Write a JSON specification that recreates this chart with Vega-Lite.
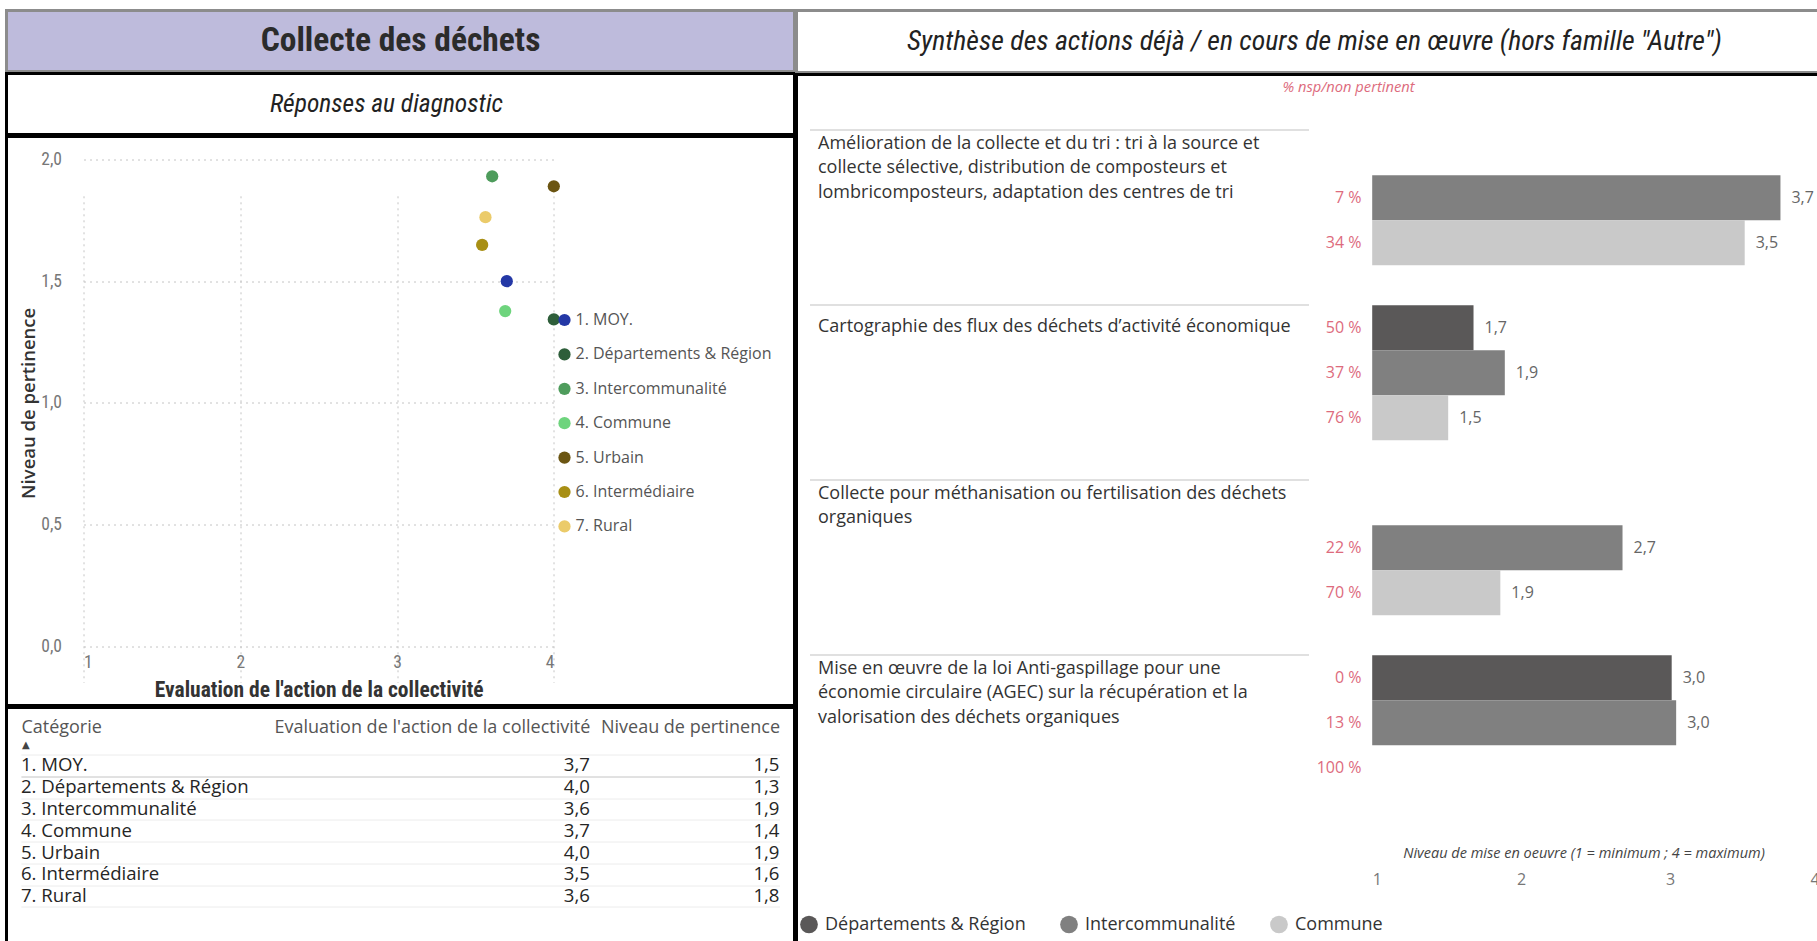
{
  "$schema": "https://vega.github.io/schema/vega-lite/v6.json",
  "padding": {"left": 4.5, "top": 8.5, "right": 0, "bottom": 0},
  "background": "white",
  "config": {
    "locale": {"number": {"decimal": ",", "thousands": "\u00a0", "grouping": [3], "currency": ["", "\u00a0€"], "percent": "\u00a0%"}},
    "view": {"stroke": null},
    "font": "Open Sans",
    "axis": {"labelFont": "Open Sans", "titleFont": "Open Sans"},
    "legend": {"labelFont": "Open Sans"}
  },
  "datasets": {
    "categories": [
      {"categorie": "1. MOY.", "evaluation": 3.70, "pertinence": 1.50},
      {"categorie": "2. Départements & Région", "evaluation": 4.00, "pertinence": 1.343},
      {"categorie": "3. Intercommunalité", "evaluation": 3.607, "pertinence": 1.931},
      {"categorie": "4. Commune", "evaluation": 3.69, "pertinence": 1.377},
      {"categorie": "5. Urbain", "evaluation": 4.00, "pertinence": 1.89},
      {"categorie": "6. Intermédiaire", "evaluation": 3.543, "pertinence": 1.649},
      {"categorie": "7. Rural", "evaluation": 3.564, "pertinence": 1.763}
    ],
    "actions": [
      {"action": "Amélioration de la collecte et du tri : tri à la source et\ncollecte sélective, distribution de composteurs et\nlombricomposteurs, adaptation des centres de tri", "serie": "Intercommunalité", "valeur": 3.74, "nsp": 0.07},
      {"action": "Amélioration de la collecte et du tri : tri à la source et\ncollecte sélective, distribution de composteurs et\nlombricomposteurs, adaptation des centres de tri", "serie": "Commune", "valeur": 3.50, "nsp": 0.34},
      {"action": "Cartographie des flux des déchets d’activité économique", "serie": "Départements & Région", "valeur": 1.68, "nsp": 0.50},
      {"action": "Cartographie des flux des déchets d’activité économique", "serie": "Intercommunalité", "valeur": 1.89, "nsp": 0.37},
      {"action": "Cartographie des flux des déchets d’activité économique", "serie": "Commune", "valeur": 1.51, "nsp": 0.76},
      {"action": "Collecte pour méthanisation ou fertilisation des déchets\norganiques", "serie": "Intercommunalité", "valeur": 2.68, "nsp": 0.22},
      {"action": "Collecte pour méthanisation ou fertilisation des déchets\norganiques", "serie": "Commune", "valeur": 1.86, "nsp": 0.70},
      {"action": "Mise en œuvre de la loi Anti-gaspillage pour une\néconomie circulaire (AGEC) sur la récupération et la\nvalorisation des déchets organiques", "serie": "Départements & Région", "valeur": 3.01, "nsp": 0.00},
      {"action": "Mise en œuvre de la loi Anti-gaspillage pour une\néconomie circulaire (AGEC) sur la récupération et la\nvalorisation des déchets organiques", "serie": "Intercommunalité", "valeur": 3.04, "nsp": 0.13},
      {"action": "Mise en œuvre de la loi Anti-gaspillage pour une\néconomie circulaire (AGEC) sur la récupération et la\nvalorisation des déchets organiques", "serie": "Commune", "valeur": null, "nsp": 1.00}
    ]
  },
  "resolve": {"scale": {"color": "independent"}, "legend": {"color": "independent"}},
  "spacing": -3,
  "hconcat": [
    {
      "spacing": -3,
      "resolve": {"scale": {"color": "independent"}, "legend": {"color": "independent"}},
      "vconcat": [
        {
          "width": 788, "height": 61,
          "view": {"fill": "#BEBBDC", "stroke": "#8c8c8c", "strokeWidth": 3},
          "data": {"values": [{"titre": "Collecte des déchets"}]},
          "mark": {"type": "text", "font": "Roboto Condensed, Liberation Sans Narrow, DejaVu Sans Condensed, Roboto", "fontSize": 33.5, "fontWeight": "bold", "color": "#2b2b2b", "baseline": "middle", "align": "center"},
          "encoding": {"text": {"field": "titre"}}
        },
        {
          "width": 788, "height": 61,
          "view": {"fill": "white", "stroke": "black", "strokeWidth": 3},
          "data": {"values": [{"titre": "Réponses au diagnostic"}]},
          "mark": {"type": "text", "font": "Roboto Condensed, Liberation Sans Narrow, DejaVu Sans Condensed, Roboto", "fontSize": 25.5, "fontStyle": "italic", "color": "#222", "baseline": "middle", "align": "center", "dx": -14},
          "encoding": {"text": {"field": "titre"}}
        },
        {
          "width": 788, "height": 569,
          "view": {"fill": "white", "stroke": "black", "strokeWidth": 3},
          "data": {"name": "categories"},
          "mark": {"type": "point", "filled": true, "size": 150, "opacity": 1},
          "encoding": {
            "x": {
              "field": "evaluation", "type": "quantitative",
              "scale": {"domain": [1, 4], "range": [77, 547.3], "nice": false, "zero": false},
              "axis": {"title": "Evaluation de l'action de la collectivité", "values": [1, 2, 3, 4], "format": "d", "offset": -59.3, "domain": false, "ticks": false, "grid": true, "gridDash": [2, 4], "gridColor": "#c4c4c4", "labelPadding": 7, "labelFont": "Roboto Condensed, Liberation Sans Narrow, DejaVu Sans Condensed, Roboto", "labelFontSize": 17.5, "labelColor": "#777", "titleFont": "Roboto Condensed, Liberation Sans Narrow, DejaVu Sans Condensed, Roboto", "titleFontSize": 21.5, "titleFontWeight": "bold", "titleColor": "#333", "titleY": 44, "titleBaseline": "middle"}
            },
            "y": {
              "field": "pertinence", "type": "quantitative",
              "scale": {"domain": [0, 2], "range": [509.7, 23], "nice": false, "zero": false},
              "axis": {"title": "Niveau de pertinence", "values": [0, 0.5, 1, 1.5, 2], "format": ".1f", "offset": -77, "domain": false, "ticks": false, "grid": true, "gridDash": [2, 4], "gridColor": "#c4c4c4", "labelPadding": 22, "labelFont": "Roboto Condensed, Liberation Sans Narrow, DejaVu Sans Condensed, Roboto", "labelFontSize": 17.5, "labelColor": "#777", "titleX": -55, "titleY": 266.35, "titleBaseline": "middle", "titleAlign": "center", "titleFont": "Open Sans", "titleFontWeight": 600, "titleFontSize": 18.5, "titleColor": "#333"}
            },
            "color": {
              "field": "categorie", "type": "nominal",
              "scale": {"domain": ["1. MOY.", "2. Départements & Région", "3. Intercommunalité", "4. Commune", "5. Urbain", "6. Intermédiaire", "7. Rural"], "range": ["#2438A6", "#2E5E3A", "#4E9C5C", "#6ED47D", "#6B5512", "#A88F14", "#EBCB6A"]},
              "legend": {"title": null, "orient": "none", "legendX": 550, "legendY": 175.5, "symbolType": "circle", "symbolSize": 150, "symbolOpacity": 1, "symbolStrokeWidth": 0, "labelFontSize": 16, "labelColor": "#555", "labelOffset": 3, "rowPadding": 18.4, "padding": 0, "labelLimit": 0}
            }
          }
        },
        {
          "width": 788, "height": 242,
          "view": {"fill": "white", "stroke": "black", "strokeWidth": 3},
          "data": {"name": "categories"},
          "layer": [
            {
              "mark": {"type": "text", "align": "left", "baseline": "middle", "fontSize": 18.6, "color": "#252525"},
              "encoding": {
                "x": {
                  "datum": "categorie", "type": "nominal",
                  "scale": {"type": "point", "domain": ["categorie", "vide1", "vide2", "evaluation", "pertinence"], "range": [14.4, 773], "padding": 0},
                  "axis": {"orient": "top", "offset": -38, "domain": false, "ticks": false, "grid": false, "title": null, "labelPadding": 18, "labelBaseline": "middle", "labelFontSize": 18, "labelColor": "#555", "labelAngle": 0, "labelLimit": 0,
                    "labelAlign": {"condition": {"test": "datum.value === 'categorie'", "value": "left"}, "value": "right"},
                    "labelExpr": "datum.value === 'categorie' ? 'Catégorie' : datum.value === 'evaluation' ? \"Evaluation de l'action de la collectivité\" : datum.value === 'pertinence' ? 'Niveau de pertinence' : ''"}
                },
                "y": {
                  "field": "categorie", "type": "nominal",
                  "scale": {"domain": ["1. MOY.", "2. Départements & Région", "3. Intercommunalité", "4. Commune", "5. Urbain", "6. Intermédiaire", "7. Rural"], "range": [47.1, 199.4], "paddingInner": 0, "paddingOuter": 0},
                  "axis": {"labels": false, "ticks": false, "domain": false, "title": null, "grid": true, "tickBand": "extent", "gridWidth": 1, "gridColor": {"condition": {"test": "datum.value === '1. MOY.'", "value": "#c4c4c4"}, "value": "#ececec"}}
                },
                "text": {"field": "categorie"}
              }
            },
            {
              "transform": [{"fold": ["evaluation", "pertinence"], "as": ["colonne", "valeur"]}],
              "mark": {"type": "text", "align": "right", "baseline": "middle", "fontSize": 18.6, "color": "#252525"},
              "encoding": {
                "x": {"field": "colonne", "type": "nominal"},
                "y": {"field": "categorie", "type": "nominal"},
                "text": {"field": "valeur", "type": "quantitative", "format": ".1f"}
              }
            },
            {
              "data": {"values": [{"tri": "▲"}]},
              "mark": {"type": "text", "font": "DejaVu Sans", "align": "center", "baseline": "middle", "fontSize": 10, "color": "#444", "dx": 5, "dy": -20},
              "encoding": {
                "x": {"datum": "categorie", "type": "nominal"},
                "y": {"datum": "1. MOY.", "type": "nominal"},
                "text": {"field": "tri"}
              }
            }
          ]
        }
      ]
    },
    {
      "spacing": -3,
      "resolve": {"scale": {"color": "independent"}, "legend": {"color": "independent"}},
      "vconcat": [
        {
          "width": 1026, "height": 62,
          "view": {"fill": "white", "stroke": "#8c8c8c", "strokeWidth": 3},
          "data": {"values": [{"titre": "Synthèse des actions déjà / en cours de mise en œuvre (hors famille \"Autre\")"}]},
          "mark": {"type": "text", "font": "Roboto Condensed, Liberation Sans Narrow, DejaVu Sans Condensed, Roboto", "fontSize": 27.8, "fontStyle": "italic", "color": "#222", "baseline": "middle", "align": "center", "dx": 5},
          "encoding": {"text": {"field": "titre"}}
        },
        {
          "width": 1026, "height": 871,
          "view": {"fill": "white", "stroke": "black", "strokeWidth": 3},
          "data": {"name": "actions"},
          "encoding": {
            "y": {
              "field": "action", "type": "nominal",
              "scale": {"domain": [
                "Amélioration de la collecte et du tri : tri à la source et\ncollecte sélective, distribution de composteurs et\nlombricomposteurs, adaptation des centres de tri",
                "Cartographie des flux des déchets d’activité économique",
                "Collecte pour méthanisation ou fertilisation des déchets\norganiques",
                "Mise en œuvre de la loi Anti-gaspillage pour une\néconomie circulaire (AGEC) sur la récupération et la\nvalorisation des déchets organiques"
              ], "range": [55.7, 715.7], "paddingInner": 0.2286, "paddingOuter": 0},
              "axis": {"title": null, "orient": "left", "offset": -512, "domain": false, "ticks": true, "tickSize": 499, "tickWidth": 1.5, "tickColor": "#d6d6d6", "bandPosition": 0, "grid": false, "labelAlign": "left", "labelBaseline": "top", "labelPadding": -8, "labelOffset": {"condition": {"test": "indexof(datum.value, 'Cartographie') === 0", "value": -54.5}, "value": -62.5}, "labelFontSize": 18, "labelColor": "#333", "labelLimit": 0, "labelLineHeight": 24.2, "labelExpr": "split(datum.label, '\\n')"}
            }
          },
          "layer": [
            {
              "mark": {"type": "bar"},
              "encoding": {
                "x": {
                  "field": "valeur", "type": "quantitative",
                  "scale": {"domain": [1, 4], "range": [575.7, 1022.7], "nice": false, "zero": false},
                  "axis": {"title": "Niveau de mise en oeuvre (1 = minimum ; 4 = maximum)", "values": [1, 2, 3, 4], "format": "d", "offset": -81, "domain": false, "ticks": false, "grid": false, "labelPadding": 7, "labelFontSize": 16, "labelColor": "#777", "titleFontStyle": "italic", "titleFontWeight": "normal", "titleFontSize": 14.5, "titleColor": "#444", "titleX": 787, "titleY": -11.3, "titleBaseline": "middle", "titleAlign": "center"}
                },
                "x2": {"datum": 1},
                "yOffset": {"field": "serie", "type": "nominal", "scale": {"domain": ["Départements & Région", "Intercommunalité", "Commune"], "paddingInner": 0, "paddingOuter": 0}},
                "color": {
                  "field": "serie", "type": "nominal",
                  "scale": {"domain": ["Départements & Région", "Intercommunalité", "Commune"], "range": ["#5A5858", "#808080", "#C9C9C9"]},
                  "legend": {"title": null, "orient": "none", "legendX": 3.5, "legendY": 841, "direction": "horizontal", "symbolType": "circle", "symbolSize": 314, "symbolStrokeWidth": 0, "symbolOpacity": 1, "labelFontSize": 18, "labelColor": "#333", "labelOffset": 7, "columnPadding": 34, "padding": 0, "labelLimit": 0}
                }
              }
            },
            {
              "mark": {"type": "text", "align": "right", "baseline": "middle", "dx": -10.7, "fontSize": 16, "color": "#DD6B7D"},
              "encoding": {
                "x": {"datum": 1, "type": "quantitative"},
                "yOffset": {"field": "serie", "type": "nominal"},
                "text": {"field": "nsp", "type": "quantitative", "format": ".0%"}
              }
            },
            {
              "transform": [{"filter": "isValid(datum.valeur)"}],
              "mark": {"type": "text", "align": "left", "baseline": "middle", "dx": 11, "fontSize": 16, "color": "#666"},
              "encoding": {
                "x": {"field": "valeur", "type": "quantitative"},
                "yOffset": {"field": "serie", "type": "nominal"},
                "text": {"field": "valeur", "type": "quantitative", "format": ".1f"}
              }
            },
            {
              "data": {"values": [{"note": "% nsp/non pertinent"}]},
              "mark": {"type": "text", "align": "center", "baseline": "middle", "dx": -23.7, "dy": -109.2, "fontSize": 14.7, "fontStyle": "italic", "color": "#DD6B7D"},
              "encoding": {
                "x": {"datum": 1, "type": "quantitative"},
                "y": {"datum": "Amélioration de la collecte et du tri : tri à la source et\ncollecte sélective, distribution de composteurs et\nlombricomposteurs, adaptation des centres de tri", "type": "nominal"},
                "text": {"field": "note"}
              }
            }
          ]
        }
      ]
    }
  ]
}
